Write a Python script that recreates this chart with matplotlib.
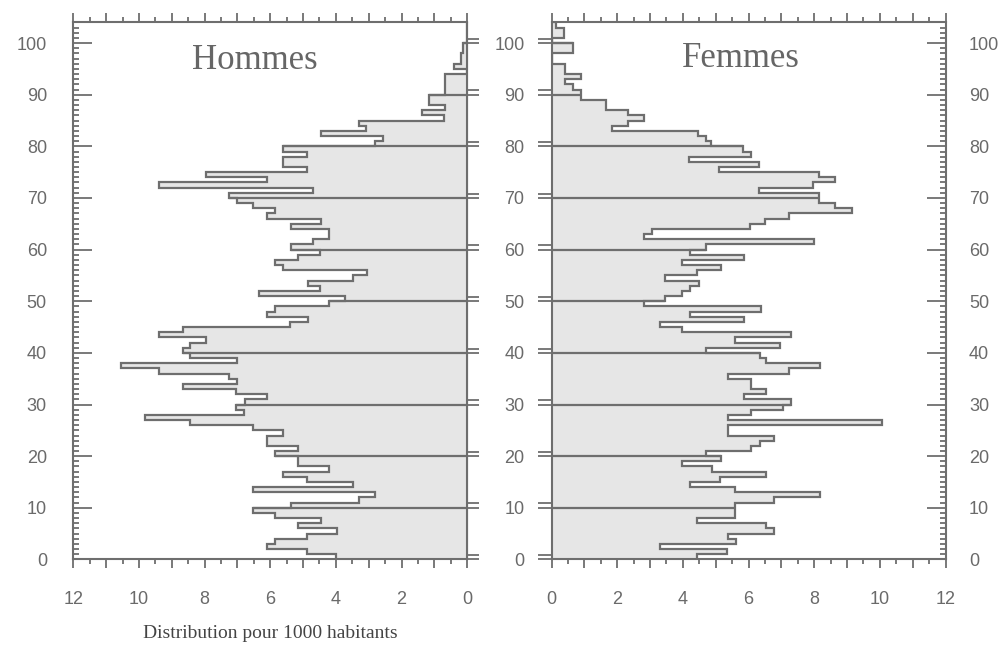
import numpy as np
import matplotlib.pyplot as plt
from matplotlib.ticker import MultipleLocator, FuncFormatter

# effectifs pour 1000 habitants, par age (0 a 104 ans)
ages = np.arange(0, 105)
hommes = [4.00, 4.87, 6.11, 5.86, 4.89, 3.98, 5.14, 4.44, 5.86, 6.54,
          5.37, 3.30, 2.81, 6.54, 3.47, 4.89, 5.60, 4.22, 5.14, 5.14,
          5.86, 5.14, 6.11, 6.11, 5.62, 6.54, 8.43, 9.82, 6.80, 7.03,
          6.77, 6.11, 7.03, 8.67, 7.00, 7.25, 9.39, 10.56, 7.00, 8.43,
          8.67, 8.43, 7.97, 9.39, 8.67, 5.40, 4.86, 6.11, 5.86, 4.22,
          3.71, 6.35, 4.49, 4.86, 3.47, 3.04, 5.62, 5.86, 5.14, 4.49,
          5.37, 4.71, 4.22, 4.22, 5.37, 4.46, 6.11, 5.86, 6.54, 7.02,
          7.26, 4.69, 9.39, 6.11, 7.97, 4.89, 5.60, 5.60, 4.89, 5.60,
          2.81, 2.56, 4.46, 3.09, 3.29, 0.71, 1.39, 0.68, 1.16, 1.16,
          0.68, 0.68, 0.68, 0.68, 0.00, 0.41, 0.20, 0.20, 0.12, 0.12,
          0.00, 0.00, 0.00, 0.00, 0.00]
femmes = [4.44, 5.35, 3.30, 5.62, 5.37, 6.79, 6.54, 4.44, 5.60, 5.60,
          5.60, 6.77, 8.19, 5.60, 4.21, 5.12, 6.54, 4.89, 3.96, 5.15,
          4.69, 6.09, 6.35, 6.79, 5.37, 5.37, 10.07, 5.37, 6.09, 7.05,
          7.28, 5.86, 6.54, 6.09, 6.09, 5.37, 7.23, 8.19, 6.54, 6.35,
          4.69, 6.97, 5.60, 7.28, 3.96, 3.30, 5.86, 4.21, 6.37, 2.81,
          3.47, 3.96, 4.21, 4.49, 3.47, 4.44, 5.15, 3.96, 5.86, 4.21,
          4.69, 7.99, 2.81, 3.05, 6.04, 6.50, 7.24, 9.14, 8.63, 8.15,
          8.15, 6.32, 7.97, 8.63, 8.15, 5.11, 6.32, 4.19, 6.07, 5.84,
          4.87, 4.69, 4.45, 1.83, 2.32, 2.81, 2.33, 1.66, 1.66, 0.90,
          0.90, 0.65, 0.40, 0.90, 0.40, 0.40, 0.00, 0.00, 0.64, 0.64,
          0.00, 0.39, 0.39, 0.13, 0.00]
yticks = list(range(0, 101, 10))
xticks = list(range(0, 13))

edge = '#6e6e6e'
fill = '#e6e6e6'
txt = '#6a6a6a'
plt.rcParams['font.family'] = ['Liberation Sans', 'DejaVu Sans']

fig = plt.figure(figsize=(10.05, 6.46), dpi=100)
axL = fig.add_axes([0.0729, 0.134, 0.392, 0.8313])
axR = fig.add_axes([0.5488, 0.134, 0.392, 0.8313])

edges = np.append(ages, ages[-1] + 1)
for ax, vals in ((axL, hommes), (axR, femmes)):
    v = np.asarray(vals)
    ax.stairs(v, edges, orientation='horizontal', fill=True, color=fill, baseline=0)
    ax.stairs(v, edges, orientation='horizontal', color=edge, lw=1.6, baseline=None)
    # traits horizontaux a chaque dizaine
    for d in yticks[1:]:
        ax.hlines(d, 0, max(v[d - 1], v[d]), color=edge, lw=1.6)
    ax.set_ylim(0, 104)
    for s in ax.spines.values():
        s.set_color(edge)
        s.set_linewidth(1.5)
    ax.xaxis.set_major_locator(MultipleLocator(1))
    ax.xaxis.set_minor_locator(MultipleLocator(0.5))
    ax.xaxis.set_major_formatter(FuncFormatter(lambda x, p: '%d' % x if round(x) % 2 == 0 else ''))
    ax.tick_params(axis='x', which='both', top=True, bottom=True, direction='out',
                   color=edge, width=1.3, labelcolor=txt, labelsize=13, pad=16)
    ax.tick_params(axis='x', which='major', length=6.5)
    ax.tick_params(axis='x', which='minor', length=3.5)
    ax.yaxis.set_minor_locator(MultipleLocator(1))
    ax.set_yticks(yticks)

axL.set_xlim(12, 0)
axR.set_xlim(0, 12)

# panneau gauche : graduations a gauche vers l'interieur
axL.yaxis.set_ticks_position('left')
axL.tick_params(axis='y', which='both', direction='in', color=edge, width=1.3,
                labelcolor=txt, labelsize=13, pad=19)
axL.tick_params(axis='y', which='major', length=14)
axL.tick_params(axis='y', which='minor', length=4.5)
secL = axL.secondary_yaxis('right')
secL.set_yticks(yticks)
secL.tick_params(direction='out', length=8.6, width=1.3, color=edge, labelright=False)
secL.spines['right'].set_color(edge)

# panneau droit : graduations a droite vers l'interieur
axR.yaxis.set_ticks_position('right')
axR.tick_params(axis='y', which='both', direction='in', color=edge, width=1.3,
                labelcolor=txt, labelsize=13, pad=17)
axR.tick_params(axis='y', which='major', length=14)
axR.tick_params(axis='y', which='minor', length=4.5)
secR = axR.secondary_yaxis('left')
secR.set_yticks(yticks)
secR.tick_params(direction='out', length=10, width=1.3, color=edge, labelcolor=txt,
                 labelsize=13, pad=9.5)
secR.spines['left'].set_color(edge)

# double trait des graduations du milieu
off = [d + 0.85 for d in yticks]
axL.hlines(off, 1.0, 1.03, transform=axL.get_yaxis_transform(), color=edge, lw=1.3, clip_on=False)
axR.hlines(off, -0.0355, 0.0, transform=axR.get_yaxis_transform(), color=edge, lw=1.3, clip_on=False)

axL.text(0.461, 0.9127, 'Hommes', transform=axL.transAxes, ha='center', va='baseline',
         family='Liberation Serif', fontsize=25, color='#666666')
axR.text(0.48, 0.9175, 'Femmes', transform=axR.transAxes, ha='center', va='baseline',
         family='Liberation Serif', fontsize=25, color='#666666')
fig.text(0.2687, 0.02, 'Distribution pour 1000 habitants', ha='center', va='center',
         family='Liberation Serif', fontsize=14, color='#444444')

fig.savefig('out.png', dpi=100)
